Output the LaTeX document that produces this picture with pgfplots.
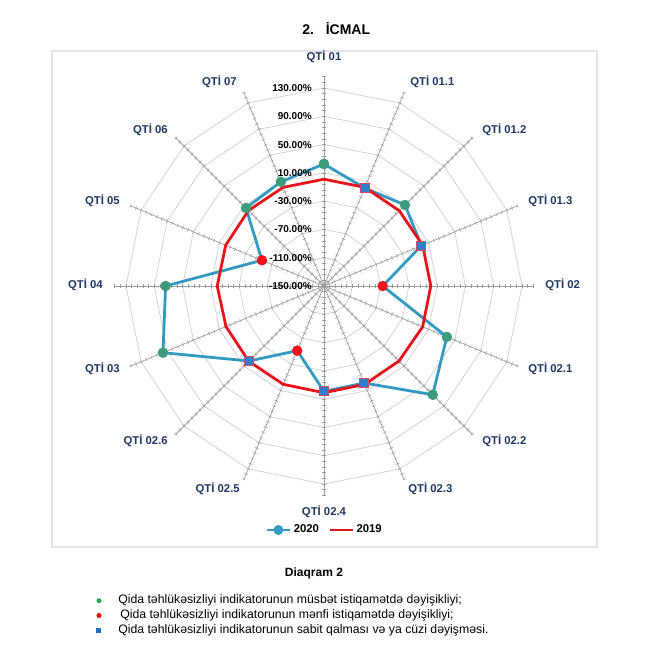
\documentclass[border=0pt]{standalone}
\usepackage{pgfplots}
\pgfplotsset{compat=1.18}
\usepackage{pgfplotstable}
\usepackage{fontspec}
\setmainfont{Liberation Sans}
\usetikzlibrary{decorations.pathreplacing}

\definecolor{line20}{HTML}{3399C2}
\definecolor{green20}{HTML}{3D9A7C}
\definecolor{red20}{HTML}{F0141E}
\definecolor{sq20}{HTML}{2F7DCB}
\definecolor{sqedge}{HTML}{D9455A}
\definecolor{line19}{HTML}{E8141C}
\definecolor{navy}{HTML}{1F3864}
\definecolor{ringc}{HTML}{D2D2D2}
\definecolor{spokec}{HTML}{9C9C9C}
\definecolor{framec}{HTML}{E4E4E4}
\definecolor{bgreen}{HTML}{1FA84F}
\definecolor{bred}{HTML}{F00000}
\definecolor{bblue}{HTML}{1E6FC0}

% index, value in percent, marker class
\pgfplotstableread{
i v c
0 22.5 g
1 0 b
2 12 g
3 -1 b
4 -67 r
5 38 g
6 67.5 g
7 -1.5 b
8 -1 b
9 -51 r
10 0 b
11 96.5 g
12 74 g
13 -55 r
14 6 g
15 9.5 g
16 22.5 g
}\dataA

\pgfplotstableread{
i v
0 1
1 1
2 0.5
3 1
4 1
5 1
6 0
7 0.5
8 1
9 0.5
10 0.5
11 0
12 1
13 0.5
14 1
15 1
16 1
}\dataB

\begin{document}
\begin{tikzpicture}
\useasboundingbox (-243pt,214.5pt) rectangle (243.75pt,-272.25pt);
% frame and grid (px scale: 1px = 0.75pt, origin at chart centre)
\begin{scope}[x=0.75pt,y=0.75pt]
\draw[framec,line width=1pt] (-272,235) rectangle (273,-261);
\end{scope}
\begin{scope}[x=0.53033pt,y=0.53033pt]
\foreach \k in {1,...,7}{
  \draw[ringc,line width=0.6pt] (90:{40*\k}) \foreach \j in {1,...,15}{ -- ({90-22.5*\j}:{40*\k}) } -- cycle;
}
\foreach \j in {0,...,15}{
  \draw[spokec,line width=0.55pt] (0,0) -- ({90-22.5*\j}:297);
  \draw[spokec,line width=0.35pt,decorate,decoration={ticks,segment length=4.2426pt,amplitude=1.5pt}] (0,0) -- ({90-22.5*\j}:297);
}
\end{scope}
\begin{axis}[
  hide axis,
  x=0.53033pt, y=0.53033pt,
  xmin=-458.2, xmax=459.62, ymin=-513.36, ymax=404.46,
  enlargelimits=false,
  at={(-243pt,214.5pt)}, anchor=north west,
  clip=false,
  legend columns=2,
  legend style={at={(0.5008,0.1834)}, anchor=center, draw=none, fill=none,
    font=\bfseries\fontsize{8.5}{10}\selectfont,
    /tikz/every even column/.append style={column sep=5pt}},
  legend cell align=left,
]
\addplot[forget plot, line20, line width=2.1pt] table[
  x expr={(\thisrow{v}+150)*cos(90-22.5*\thisrow{i})},
  y expr={(\thisrow{v}+150)*sin(90-22.5*\thisrow{i})}] {\dataA};
\addplot[forget plot, line19, line width=2.1pt] table[
  x expr={(\thisrow{v}+150)*cos(90-22.5*\thisrow{i})},
  y expr={(\thisrow{v}+150)*sin(90-22.5*\thisrow{i})}] {\dataB};
\addplot[forget plot, scatter, only marks, scatter src=explicit symbolic,
  scatter/classes={
    g={mark=*, mark size=3.7pt, fill=green20, draw=green20},
    r={mark=*, mark size=3.7pt, fill=red20, draw=red20},
    b={mark=square*, mark size=3.4pt, fill=sq20, draw=sqedge, line width=0.6pt}}]
  table[
  x expr={(\thisrow{v}+150)*cos(90-22.5*\thisrow{i})},
  y expr={(\thisrow{v}+150)*sin(90-22.5*\thisrow{i})},
  meta=c] {\dataA};
\addlegendimage{line20, line width=2.1pt, mark=*, mark size=2.6pt, mark options={fill=line20, draw=line20}}
\addlegendimage{line19, line width=2.1pt}
\legend{2020,2019}
\end{axis}
\begin{scope}[x=0.75pt,y=0.75pt]
% title
\node[anchor=base west,inner sep=0pt,font=\bfseries\fontsize{10.5}{12}\selectfont] at (-22,251) {2.};
\node[anchor=base west,inner sep=0pt,font=\bfseries\fontsize{10.5}{12}\selectfont] at (1.5,251) {İCMAL};
% radial labels
\foreach \k/\t in {0/-150.00\%,1/-110.00\%,2/-70.00\%,3/-30.00\%,4/10.00\%,5/50.00\%,6/90.00\%,7/130.00\%}{
  \node[anchor=east,inner sep=0pt,font=\bfseries\fontsize{7.5}{9}\selectfont] at (-12,{28.284*\k}) {\t};
}
% category labels
\begin{scope}[every node/.style={inner sep=0pt,text=navy,font=\bfseries\fontsize{8.5}{10}\selectfont}]
\node[anchor=center] at (0,229) {QTİ 01};
\node[anchor=west] at (86,204.3) {QTİ 01.1};
\node[anchor=west] at (158,156) {QTİ 01.2};
\node[anchor=west] at (204,85.3) {QTİ 01.3};
\node[anchor=west] at (221,1) {QTİ 02};
\node[anchor=west] at (204,-83) {QTİ 02.1};
\node[anchor=west] at (158,-155) {QTİ 02.2};
\node[anchor=west] at (84,-203) {QTİ 02.3};
\node[anchor=center] at (0,-226) {QTİ 02.4};
\node[anchor=east] at (-84,-203) {QTİ 02.5};
\node[anchor=east] at (-156,-155) {QTİ 02.6};
\node[anchor=east] at (-204,-83) {QTİ 03};
\node[anchor=east] at (-221,1) {QTİ 04};
\node[anchor=east] at (-204,85.3) {QTİ 05};
\node[anchor=east] at (-156,156) {QTİ 06};
\node[anchor=east] at (-87,204.3) {QTİ 07};
\end{scope}
% caption and notes
\node[font=\bfseries\fontsize{9}{11}\selectfont] at (-10,-287) {Diaqram 2};
\fill[bgreen] (-225,-314.7) circle (2.5);
\fill[bred] (-225,-329.5) circle (2.5);
\fill[bblue] (-227.5,-346.5) rectangle (-222.5,-341.5);
\begin{scope}[every node/.style={anchor=west,inner sep=0pt,font=\fontsize{9.2}{11}\selectfont}]
\node at (-206,-314.7) {Qida təhlükəsizliyi indikatorunun müsbət istiqamətdə dəyişikliyi;};
\node at (-204,-329) {Qida təhlükəsizliyi indikatorunun mənfi istiqamətdə dəyişikliyi;};
\node at (-206,-344) {Qida təhlükəsizliyi indikatorunun sabit qalması və ya cüzi dəyişməsi.};
\end{scope}
\end{scope}
\end{tikzpicture}
\end{document}
